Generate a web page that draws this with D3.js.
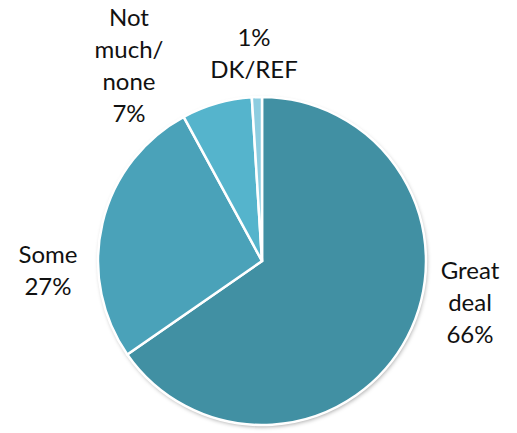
<!DOCTYPE html>
<html><head><meta charset="utf-8">
<script src="https://cdn.jsdelivr.net/npm/d3@7"></script>
<style>html,body{margin:0;padding:0;background:#fff;}svg{display:block;}</style>
</head><body>
<svg id="c" width="517" height="433"></svg>
<script>
const categories = ["Great deal", "Some", "Not much/ none", "DK/REF"];
const values = [66, 27, 7, 1];
const labelLines = [["Great", "deal", "66%"], ["Some", "27%"], ["Not", "much/", "none", "7%"], ["1%", "DK/REF"]];
const colors = ["#4190a3", "#4aa2b9", "#55b4cc", "#8dcde0"];

const svg = d3.select("#c");
const cx = 262, cy = 261, r = 164;
const defs = svg.append("defs");
const f = defs.append("filter").attr("id", "sh").attr("x", "-10%").attr("y", "-10%").attr("width", "120%").attr("height", "120%");
f.append("feDropShadow").attr("dx", 1).attr("dy", 2).attr("stdDeviation", 2).attr("flood-color", "#000").attr("flood-opacity", 0.35);

const pie = d3.pie().sort(null).value(d => d)(values);
const arc = d3.arc().innerRadius(0).outerRadius(r);
const g = svg.append("g").attr("transform", `translate(${cx},${cy})`);
g.append("circle").attr("r", r).attr("fill", "#fff").attr("filter", "url(#sh)");
g.selectAll("path").data(pie).join("path")
  .attr("d", arc).attr("fill", (d, i) => colors[i])
  .attr("stroke", "#fff").attr("stroke-width", 2.5).attr("stroke-linejoin", "miter");

// label anchor positions (center x, first line center y)
const labelPos = [[470, 271], [48, 255], [129, 18], [254, 38]];
const lh = 32;
const lab = svg.append("g").attr("font-family", "Lato, 'Open Sans', sans-serif").attr("font-size", 24).attr("fill", "#111").attr("text-anchor", "middle");
labelLines.forEach((lines, i) => {
  const t = lab.append("text").attr("x", labelPos[i][0]).attr("y", labelPos[i][1]);
  lines.forEach((s, j) => {
    t.append("tspan").attr("x", labelPos[i][0]).attr("y", labelPos[i][1] + j * lh).attr("dy", "0.35em").text(s);
  });
});
</script>
</body></html>
